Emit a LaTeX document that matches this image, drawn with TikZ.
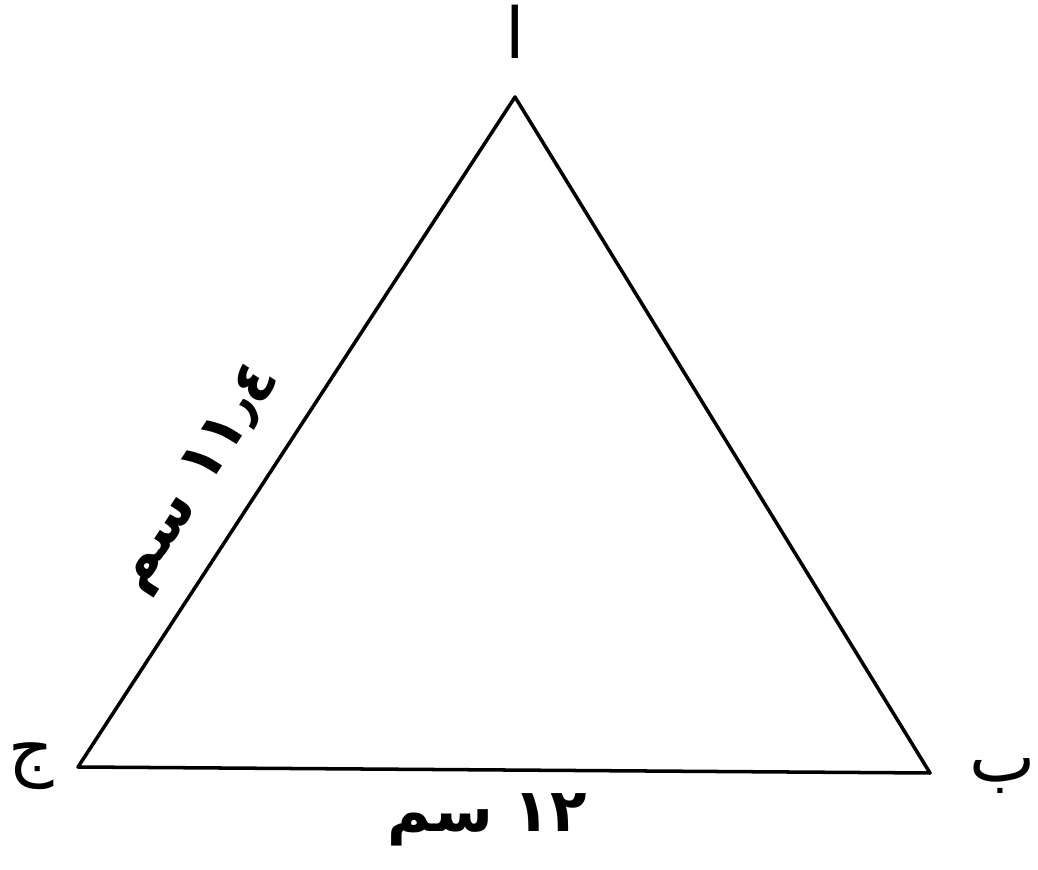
\documentclass[tikz,border=0pt]{standalone}
\usepackage{fontspec}
\newfontfamily\arabicfont[Script=Arabic]{DejaVu Sans}
\TeXXeTstate=1

\begin{document}
\begin{tikzpicture}[
    side/.style={line width=2pt, line join=round},
    vertexlabel/.style={font=\arabicfont\fontsize{40}{44}\selectfont, inner sep=0pt},
    lengthlabel/.style={font=\arabicfont\bfseries\fontsize{34}{40}\selectfont, inner sep=2pt}
]
    \useasboundingbox (0,0) rectangle (20.76,17.38);

    % Vertices
    \coordinate (A) at (10.30,15.44);
    \coordinate (B) at (18.60,1.92);
    \coordinate (C) at (1.56,2.04);

    % Triangle
    \draw[side] (A) -- (B) -- (C) -- cycle;

    % Vertex names
    \node[vertexlabel] (la) at (10.30,16.75) {\beginR ا\endR};
    \node[vertexlabel] (lb) at (20.05,1.85) {\beginR ب\endR};
    \node[vertexlabel] (lc) at (0.62,2.05) {\beginR ج\endR};

    % Side lengths
    \node[lengthlabel] (base) at (9.74,0.98) {\beginR ١٢ سم\endR};
    \path (C) -- node[lengthlabel, sloped, above=14pt, pos=0.385] (left) {\beginR ١١٫٤ سم\endR} (A);
\end{tikzpicture}
\end{document}
